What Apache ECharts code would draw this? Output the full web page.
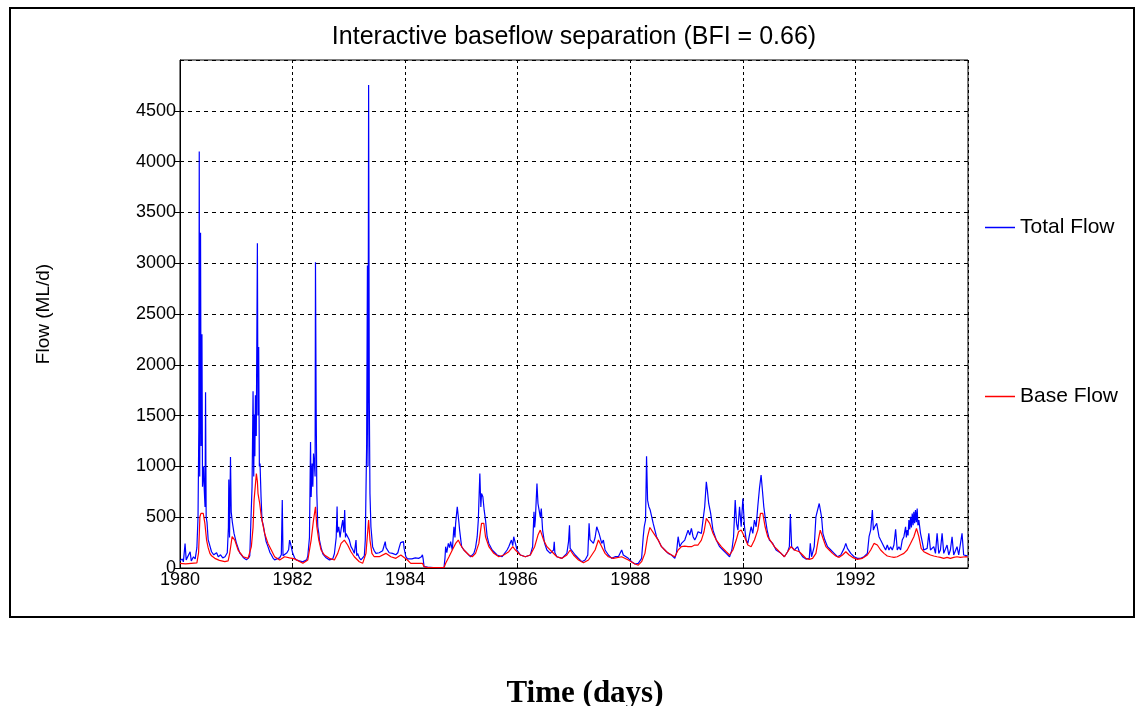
<!DOCTYPE html>
<html>
<head>
<meta charset="utf-8">
<script src="https://cdn.jsdelivr.net/npm/echarts@6/dist/echarts.min.js"></script>
<style>
html,body{margin:0;padding:0;background:#fff;}
#chart{width:1135px;height:706px;}
</style>
</head>
<body>
<div id="chart"></div>
<script>
// ---- DATA (decimal year, ML/d) ----
const chartTitle = 'Interactive baseflow separation (BFI = 0.66)';
const seriesNames = ['Total Flow', 'Base Flow'];
const xTickYears = [1980, 1982, 1984, 1986, 1988, 1990, 1992];
const yTicks = [0, 500, 1000, 1500, 2000, 2500, 3000, 3500, 4000, 4500];

const totalFlow = [
[1980.00,70],[1980.04,90],[1980.06,60],[1980.09,240],[1980.11,80],[1980.14,70],[1980.18,160],[1980.20,70],[1980.24,110],[1980.27,90],[1980.30,200],[1980.32,500],[1980.335,1400],[1980.342,4100],[1980.35,900],[1980.365,3300],[1980.375,1200],[1980.39,2300],[1980.40,800],[1980.42,1000],[1980.431,770],[1980.445,600],[1980.454,1730],[1980.465,500],[1980.48,450],[1980.50,280],[1980.53,220],[1980.56,160],[1980.60,130],[1980.65,150],[1980.68,110],[1980.72,130],[1980.76,100],[1980.80,110],[1980.84,150],[1980.86,400],[1980.867,870],[1980.88,300],[1980.897,1093],[1980.91,550],[1980.93,450],[1980.96,340],[1981.00,250],[1981.03,200],[1981.06,150],[1981.09,130],[1981.13,100],[1981.18,80],[1981.22,100],[1981.24,120],[1981.26,470],[1981.28,800],[1981.298,1740],[1981.31,900],[1981.32,1510],[1981.33,1100],[1981.34,1700],[1981.355,1300],[1981.375,3196],[1981.385,1500],[1981.398,2174],[1981.41,1000],[1981.422,1029],[1981.44,700],[1981.457,470],[1981.48,420],[1981.504,340],[1981.53,260],[1981.563,210],[1981.60,150],[1981.622,130],[1981.65,100],[1981.681,80],[1981.72,90],[1981.77,100],[1981.80,130],[1981.817,668],[1981.83,120],[1981.858,110],[1981.90,150],[1981.93,180],[1981.947,275],[1981.96,250],[1981.976,260],[1982.00,150],
[1982.035,100],[1982.065,80],[1982.12,70],[1982.18,60],[1982.212,50],[1982.25,80],[1982.271,120],[1982.30,300],[1982.319,1241],[1982.33,700],[1982.348,1029],[1982.36,800],[1982.372,1127],[1982.389,1012],[1982.40,900],[1982.407,3009],[1982.419,1568],[1982.431,734],[1982.448,406],[1982.466,340],[1982.478,275],[1982.507,200],[1982.537,140],[1982.566,120],[1982.596,100],[1982.655,80],[1982.714,90],[1982.743,140],[1982.775,300],[1982.791,604],[1982.80,350],[1982.820,406],[1982.844,300],[1982.862,380],[1982.891,472],[1982.91,350],[1982.926,570],[1982.94,300],[1982.95,340],[1982.979,308],[1983.009,275],[1983.038,210],[1983.07,180],[1983.097,144],[1983.127,275],[1983.14,120],[1983.156,144],[1983.186,100],[1983.215,79],[1983.245,79],[1983.275,120],[1983.292,275],[1983.316,1220],[1983.33,2977],[1983.34,1000],[1983.351,4754],[1983.363,1666],[1983.375,733],[1983.392,406],[1983.422,210],[1983.451,170],[1983.481,144],[1983.51,160],[1983.54,150],[1983.569,144],[1983.60,170],[1983.646,260],[1983.66,200],[1983.687,193],[1983.717,150],[1983.746,144],[1983.776,144],[1983.80,160],[1983.835,130],[1983.87,150],[1983.894,200],[1983.92,250],[1983.953,240],[1983.97,260],[1983.982,193],[1984.012,111],[1984.041,90],
[1984.071,95],[1984.12,90],[1984.18,100],[1984.24,95],[1984.29,110],[1984.307,130],[1984.32,90],[1984.336,13],[1984.40,8],[1984.50,5],[1984.60,3],[1984.69,3],[1984.708,100],[1984.720,210],[1984.74,150],[1984.767,242],[1984.79,200],[1984.808,259],[1984.838,177],[1984.867,406],[1984.885,300],[1984.897,439],[1984.926,603],[1984.944,619],[1984.955,450],[1984.968,373],[1985.003,210],[1985.044,177],[1985.103,144],[1985.162,111],[1985.221,144],[1985.251,200],[1985.280,308],[1985.30,472],[1985.327,930],[1985.345,600],[1985.357,733],[1985.381,701],[1985.404,569],[1985.428,472],[1985.457,308],[1985.487,242],[1985.546,177],[1985.634,128],[1985.723,111],[1985.811,177],[1985.841,210],[1985.888,275],[1985.912,220],[1985.929,308],[1985.959,242],[1985.988,177],[1986.047,128],[1986.136,111],[1986.224,128],[1986.265,210],[1986.289,553],[1986.301,400],[1986.313,472],[1986.342,832],[1986.360,635],[1986.384,652],[1986.401,500],[1986.419,586],[1986.442,373],[1986.478,242],[1986.519,177],[1986.578,144],[1986.637,177],[1986.649,258],[1986.66,150],[1986.696,111],[1986.785,95],[1986.873,144],[1986.903,259],[1986.92,420],[1986.932,193],[1986.962,177],[1987.021,128],[1987.080,95],[1987.139,62],[1987.198,79],[1987.245,128],[1987.268,439],[1987.285,280],[1987.304,275],[1987.345,242],[1987.375,300],
[1987.404,406],[1987.422,420],[1987.445,341],[1987.469,291],[1987.493,242],[1987.522,275],[1987.552,177],[1987.611,128],[1987.670,95],[1987.729,111],[1987.788,111],[1987.847,177],[1987.876,128],[1987.906,111],[1987.965,95],[1988.024,62],[1988.083,39],[1988.142,46],[1988.201,95],[1988.230,308],[1988.248,406],[1988.271,472],[1988.289,1100],[1988.307,668],[1988.330,603],[1988.354,570],[1988.378,553],[1988.407,439],[1988.437,373],[1988.466,308],[1988.496,275],[1988.555,210],[1988.614,177],[1988.673,144],[1988.732,128],[1988.791,95],[1988.820,144],[1988.850,308],[1988.879,210],[1988.909,242],[1988.938,242],[1988.968,275],[1989.027,373],[1989.056,324],[1989.086,390],[1989.115,308],[1989.145,275],[1989.174,308],[1989.204,357],[1989.263,341],[1989.292,472],[1989.322,603],[1989.351,848],[1989.369,766],[1989.393,635],[1989.428,537],[1989.469,373],[1989.528,275],[1989.587,210],[1989.646,177],[1989.705,144],[1989.764,111],[1989.805,177],[1989.835,308],[1989.864,668],[1989.888,439],[1989.912,373],[1989.941,603],[1989.970,406],[1990.000,684],[1990.029,406],[1990.059,275],[1990.088,242],[1990.147,406],[1990.177,341],[1990.206,472],[1990.236,406],[1990.265,603],[1990.295,783],[1990.324,914],[1990.342,799],[1990.372,603],[1990.395,504],[1990.431,373],[1990.472,275],[1990.531,242],[1990.590,177],[1990.619,160],
[1990.678,144],[1990.738,111],[1990.796,160],[1990.826,210],[1990.844,531],[1990.867,210],[1990.915,177],[1990.973,210],[1991.003,160],[1991.062,111],[1991.121,88],[1991.180,95],[1991.198,242],[1991.221,111],[1991.268,210],[1991.298,504],[1991.327,570],[1991.357,635],[1991.375,619],[1991.398,504],[1991.422,341],[1991.457,275],[1991.504,210],[1991.563,177],[1991.622,144],[1991.681,111],[1991.740,128],[1991.799,193],[1991.829,242],[1991.858,193],[1991.888,210],[1991.917,144],[1991.976,111],[1992.035,95],[1992.094,95],[1992.153,111],[1992.212,144],[1992.242,308],[1992.271,373],[1992.301,570],[1992.319,373],[1992.342,406],[1992.378,439],[1992.419,308],[1992.448,275],[1992.507,210],[1992.537,177],[1992.566,226],[1992.596,177],[1992.625,210],[1992.655,177],[1992.684,226],[1992.714,380],[1992.743,177],[1992.773,210],[1992.802,177],[1992.832,275],[1992.861,308],[1992.891,406],[1992.905,300],[1992.920,373],[1992.935,320],[1992.950,472],[1992.965,380],[1992.979,504],[1992.995,400],[1993.009,537],[1993.025,420],[1993.038,553],[1993.052,440],[1993.067,570],[1993.082,450],[1993.097,586],[1993.11,420],[1993.127,472],[1993.156,341],[1993.186,259],[1993.215,177],[1993.245,177],[1993.274,193],[1993.304,341],[1993.333,177],[1993.363,160],[1993.392,210],[1993.422,144],[1993.451,341],[1993.481,144],[1993.510,177],[1993.540,341],[1993.569,144],[1993.599,128],[1993.628,226],[1993.658,128],[1993.687,177],[1993.717,308],[1993.746,128],[1993.776,144],[1993.805,210],[1993.835,128],[1993.864,144],[1993.894,341],[1993.923,128],[1993.953,128],[1993.99,120]
];

const baseFlow = [
[1980.00,46],[1980.10,40],[1980.20,46],[1980.30,50],[1980.33,150],[1980.354,504],[1980.372,537],[1980.40,540],[1980.413,537],[1980.442,439],[1980.472,275],[1980.50,200],[1980.531,144],[1980.56,120],[1980.619,95],[1980.70,75],[1980.796,62],[1980.855,70],[1980.885,150],[1980.926,308],[1980.973,275],[1981.032,177],[1981.121,111],[1981.209,95],[1981.24,110],[1981.268,210],[1981.298,400],[1981.316,668],[1981.357,930],[1981.375,850],[1981.386,733],[1981.416,635],[1981.445,504],[1981.504,340],[1981.563,242],[1981.622,177],[1981.681,111],[1981.770,78],[1981.858,111],[1981.947,100],[1982.035,90],
[1982.065,79],[1982.183,46],[1982.212,29],[1982.271,79],[1982.330,275],[1982.372,472],[1982.407,603],[1982.431,406],[1982.466,275],[1982.507,177],[1982.566,128],[1982.655,95],[1982.743,79],[1982.802,144],[1982.862,242],[1982.920,275],[1982.979,226],[1983.038,160],[1983.097,111],[1983.186,62],[1983.245,46],[1983.304,144],[1983.351,472],[1983.375,275],[1983.410,144],[1983.451,111],[1983.540,111],[1983.658,144],[1983.746,111],[1983.835,95],[1983.923,128],[1983.953,144],[1984.041,79],[1984.100,46],[1984.218,46],
[1984.307,46],[1984.336,13],[1984.40,3],[1984.69,3],[1984.708,20],[1984.720,46],[1984.779,111],[1984.838,177],[1984.897,242],[1984.944,275],[1984.985,226],[1985.044,177],[1985.133,128],[1985.192,111],[1985.251,144],[1985.310,242],[1985.357,439],[1985.398,439],[1985.428,308],[1985.487,210],[1985.575,144],[1985.664,111],[1985.752,128],[1985.841,160],[1985.912,210],[1985.959,177],[1986.047,128],[1986.136,111],[1986.224,128],[1986.301,210],[1986.360,324],[1986.401,373],[1986.460,275],[1986.519,210],[1986.608,160],[1986.696,111],[1986.785,95],[1986.873,128],[1986.932,177],[1986.991,128],[1987.080,79],[1987.168,52],[1987.257,79],[1987.316,128],[1987.375,177],[1987.434,275],
[1987.493,210],[1987.552,144],[1987.611,111],[1987.699,95],[1987.847,111],[1987.965,79],[1988.083,39],[1988.142,29],[1988.201,62],[1988.260,144],[1988.307,308],[1988.348,399],[1988.378,390],[1988.437,324],[1988.496,275],[1988.555,210],[1988.643,160],[1988.732,128],[1988.791,111],[1988.850,177],[1988.909,210],[1988.968,216],[1989.027,210],[1989.086,210],[1989.145,226],[1989.204,226],[1989.263,275],[1989.310,357],[1989.351,488],[1989.369,504],[1989.410,439],[1989.469,341],[1989.528,275],[1989.617,210],[1989.705,160],[1989.764,128],[1989.823,177],[1989.882,275],[1989.923,357],[1989.970,373],[1990.029,308],[1990.088,226],[1990.147,210],[1990.206,275],[1990.265,373],[1990.313,537],[1990.354,537],[1990.395,406],[1990.442,308],[1990.501,259],[1990.560,210],[1990.619,177],
[1990.678,144],[1990.738,111],[1990.796,160],[1990.855,210],[1990.915,177],[1991.003,160],[1991.062,128],[1991.121,95],[1991.180,85],[1991.239,95],[1991.298,144],[1991.339,275],[1991.375,373],[1991.398,357],[1991.434,275],[1991.475,210],[1991.534,177],[1991.593,144],[1991.652,118],[1991.711,105],[1991.770,128],[1991.829,160],[1991.888,128],[1991.947,105],[1992.035,85],[1992.124,95],[1992.212,128],[1992.271,177],[1992.330,242],[1992.389,226],[1992.448,177],[1992.507,144],[1992.566,118],[1992.625,111],[1992.684,105],[1992.743,111],[1992.802,128],[1992.861,144],[1992.920,177],[1992.979,242],[1993.038,308],[1993.085,390],[1993.127,308],[1993.168,193],[1993.215,160],[1993.274,144],[1993.333,128],[1993.392,118],[1993.451,111],[1993.510,105],[1993.569,95],[1993.628,105],[1993.687,95],[1993.746,105],[1993.805,111],[1993.864,105],[1993.953,111],[1993.99,110]
];

// ---- CHART ----
const FONT = '"Liberation Sans", Arial, sans-serif';
const chart = echarts.init(document.getElementById('chart'), null, {renderer: 'canvas'});
chart.setOption({
  animation: false,
  backgroundColor: '#fff',
  title: [
    {text: chartTitle, left: 569, top: 20, textAlign: 'center',
     textStyle: {fontFamily: FONT, fontSize: 25, fontWeight: 'normal', color: '#000'}},
    {text: 'Time (days)', left: 580, top: 673, textAlign: 'center',
     textStyle: {fontFamily: '"Liberation Serif", "Times New Roman", serif', fontSize: 31, fontWeight: 'bold', color: '#000'}}
  ],
  legend: [
    {data: [seriesNames[0]], left: 980, top: 212, icon: 'rect', itemWidth: 30, itemHeight: 1.5,
     textStyle: {fontFamily: FONT, fontSize: 21, color: '#000'}},
    {data: [seriesNames[1]], left: 980, top: 381, icon: 'rect', itemWidth: 30, itemHeight: 1.5,
     textStyle: {fontFamily: FONT, fontSize: 21, color: '#000'}}
  ],
  graphic: [
    {type: 'rect', shape: {x: 10, y: 8, width: 1124, height: 609},
     style: {fill: 'none', stroke: '#000', lineWidth: 2}, silent: true}
  ],
  grid: {left: 180, top: 60, width: 788, height: 508, show: true, borderColor: '#000', borderWidth: 1, containLabel: false},
  xAxis: {
    type: 'value', min: 1980, max: 1994, interval: 2,
    axisLine: {show: true, onZero: false, lineStyle: {color: '#000', width: 1}},
    axisTick: {show: true, inside: true, length: 5, lineStyle: {color: '#000'}},
    axisLabel: {showMaxLabel: false, margin: 3, fontFamily: FONT, fontSize: 18, color: '#000',
      formatter: v => xTickYears.indexOf(v) >= 0 ? String(v) : ''},
    splitLine: {show: true, lineStyle: {color: '#000', type: [3, 3], width: 1}}
  },
  yAxis: {
    type: 'value', min: 0, max: 5000, interval: 500,
    name: 'Flow (ML/d)', nameLocation: 'middle', nameGap: 127, nameRotate: 90,
    nameTextStyle: {fontFamily: FONT, fontSize: 19, color: '#000'},
    axisLine: {show: true, lineStyle: {color: '#000', width: 1}},
    axisTick: {show: true, inside: false, length: 5, lineStyle: {color: '#000'}},
    axisLabel: {showMaxLabel: false, margin: 4, fontFamily: FONT, fontSize: 18, color: '#000',
      formatter: v => yTicks.indexOf(v) >= 0 ? String(v) : ''},
    splitLine: {show: true, lineStyle: {color: '#000', type: [4, 4], width: 1}}
  },
  series: [
    {name: seriesNames[0], type: 'line', data: totalFlow, showSymbol: false, symbol: 'none',
     lineStyle: {color: '#0000ff', width: 1.2}, itemStyle: {color: '#0000ff'}, z: 2},
    {name: seriesNames[1], type: 'line', data: baseFlow, showSymbol: false, symbol: 'none',
     lineStyle: {color: '#ff0000', width: 1.2}, itemStyle: {color: '#ff0000'}, z: 3}
  ]
});
</script>
</body>
</html>
